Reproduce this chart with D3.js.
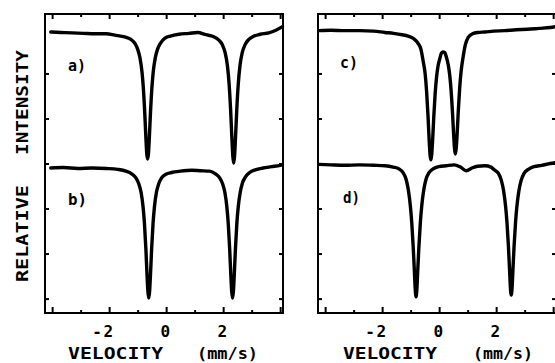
<!DOCTYPE html>
<html><head><meta charset="utf-8">
<script src="https://cdn.jsdelivr.net/npm/d3@7"></script>
<style>body{margin:0;background:#fff}svg{display:block}</style>
</head><body>
<svg id="chart" width="555" height="363"></svg>
<script>
// ---- data (velocity in mm/s, relative intensity in stacked units) ----
const velA = [-4.05,-3.7,-3.3,-2.9,-2.5,-2.1,-1.8,-1.45,-1.25,-1.1,-1.0,-0.92,-0.85,-0.80,-0.75,-0.71,-0.68,-0.65,-0.62,-0.59,-0.55,-0.50,-0.45,-0.38,-0.30,-0.20,-0.05,0.15,0.45,0.8,1.1,1.4,1.65,1.85,1.97,2.07,2.15,2.21,2.26,2.30,2.34,2.37,2.40,2.44,2.48,2.53,2.59,2.67,2.77,2.89,3.05,3.3,3.6,3.85,4.08];
const intA = [6.92,6.91,6.90,6.89,6.88,6.88,6.85,6.81,6.76,6.67,6.54,6.35,6.05,5.68,5.12,4.57,4.22,4.10,4.22,4.57,5.12,5.68,6.05,6.35,6.54,6.67,6.78,6.83,6.87,6.89,6.91,6.86,6.82,6.74,6.64,6.46,6.17,5.76,5.22,4.66,4.16,4.01,4.16,4.66,5.22,5.76,6.17,6.46,6.64,6.75,6.82,6.87,6.90,6.96,7.04];

const velB = [-4.05,-3.6,-3.1,-2.6,-2.1,-1.7,-1.41,-1.21,-1.06,-0.96,-0.88,-0.81,-0.76,-0.71,-0.67,-0.64,-0.61,-0.58,-0.55,-0.51,-0.46,-0.41,-0.34,-0.26,-0.16,-0.01,0.19,0.5,0.9,1.2,1.53,1.73,1.88,1.98,2.06,2.13,2.18,2.23,2.27,2.30,2.33,2.36,2.39,2.43,2.48,2.53,2.60,2.68,2.78,2.93,3.13,3.4,3.7,4.0,4.08];
const intB = [3.90,3.91,3.89,3.90,3.89,3.87,3.83,3.77,3.68,3.55,3.36,3.04,2.66,2.09,1.52,1.16,1.01,1.16,1.52,2.09,2.66,3.04,3.36,3.55,3.68,3.76,3.80,3.83,3.85,3.84,3.83,3.77,3.68,3.55,3.36,3.04,2.66,2.09,1.52,1.16,1.01,1.16,1.52,2.09,2.66,3.04,3.36,3.57,3.70,3.80,3.86,3.90,3.93,3.96,3.97];

const velC = [-4.21,-3.8,-3.3,-2.8,-2.3,-1.9,-1.6,-1.3,-1.09,-0.89,-0.74,-0.64,-0.56,-0.49,-0.44,-0.39,-0.35,-0.32,-0.29,-0.26,-0.23,-0.19,-0.14,-0.09,-0.04,0.02,0.08,0.14,0.20,0.26,0.32,0.37,0.42,0.47,0.51,0.54,0.57,0.60,0.63,0.67,0.72,0.77,0.84,0.92,1.02,1.17,1.37,1.6,1.9,2.3,2.7,3.1,3.5,3.9,4.1];
const intC = [6.95,6.96,6.95,6.95,6.94,6.91,6.89,6.86,6.83,6.77,6.67,6.54,6.27,5.99,5.60,5.05,4.52,4.20,4.08,4.20,4.50,5.01,5.55,5.92,6.16,6.32,6.45,6.48,6.46,6.35,6.19,5.97,5.62,5.11,4.63,4.33,4.21,4.34,4.64,5.14,5.67,6.04,6.36,6.64,6.80,6.88,6.91,6.92,6.94,6.95,6.97,6.98,7.00,7.02,7.04];

const velD = [-4.21,-3.8,-3.3,-2.8,-2.3,-1.9,-1.61,-1.41,-1.26,-1.16,-1.08,-1.01,-0.96,-0.91,-0.87,-0.84,-0.81,-0.78,-0.75,-0.71,-0.66,-0.61,-0.54,-0.46,-0.36,-0.21,-0.01,0.25,0.53,0.75,0.95,1.15,1.35,1.6,1.82,1.93,2.08,2.18,2.26,2.33,2.38,2.43,2.47,2.50,2.53,2.56,2.59,2.63,2.68,2.73,2.80,2.88,2.98,3.13,3.33,3.6,3.9,4.1];
const intD = [3.98,3.97,3.96,3.97,3.96,3.95,3.92,3.88,3.79,3.65,3.41,3.06,2.68,2.15,1.63,1.22,1.04,1.22,1.63,2.15,2.68,3.06,3.41,3.65,3.79,3.88,3.93,3.95,3.97,3.92,3.84,3.90,3.94,3.95,3.92,3.86,3.78,3.63,3.40,3.06,2.69,2.17,1.65,1.25,1.08,1.25,1.65,2.17,2.69,3.06,3.40,3.63,3.78,3.87,3.93,3.96,4.00,4.02];

const panelLabels = ["a)","b)","c)","d)"];
const xMajorTicks = [-4,-2,0,2,4];
const xMinorTicks = [-3,-1,1,3];
const xTickLabels = ["-2","0","2"];
const xLabelTicks = [-2,0,2];
const yTicks = [1,2,3,4,5,6];
const xTitle = ["VELOCITY","(mm/s)"];
const yTitle = ["RELATIVE","INTENSITY"];

// ---- layout ----
const svg = d3.select("#chart");
const plotTop = 14, plotBottom = 313;
const panelW = 238;
const panelX = [45, 318];
const y = d3.scaleLinear().domain([0.68, 7.32]).range([plotBottom, plotTop]);
const FONT = "'DejaVu Sans Mono', monospace";

const panels = [
  {x0: panelX[0], spectra: [[velA,intA],[velB,intB]], labels: [panelLabels[0], panelLabels[1]],
   labelPos: [[68,71,18],[68,205,19]], title: [[68,95],[197,61]]},
  {x0: panelX[1], spectra: [[velC,intC],[velD,intD]], labels: [panelLabels[2], panelLabels[3]],
   labelPos: [[340,68,18],[343,203,17]], title: [[343,94],[473,60]]}
];

panels.forEach(p => {
  const x = d3.scaleLinear().domain([-4.25, 4.1]).range([p.x0, p.x0 + panelW]);
  const g = svg.append("g");

  g.append("rect").attr("x", p.x0).attr("y", plotTop).attr("width", panelW).attr("height", plotBottom - plotTop)
    .attr("fill", "none").attr("stroke", "#000").attr("stroke-width", 2);

  const axB1 = d3.axisTop(x).tickValues(xMajorTicks).tickSize(6).tickFormat("");
  const axB2 = d3.axisTop(x).tickValues(xMinorTicks).tickSize(3).tickFormat("");
  const axT1 = d3.axisBottom(x).tickValues(xMajorTicks).tickSize(5).tickFormat("");
  const axT2 = d3.axisBottom(x).tickValues(xMinorTicks).tickSize(3).tickFormat("");
  [[axB1,plotBottom],[axB2,plotBottom],[axT1,plotTop],[axT2,plotTop]].forEach(([ax,yy]) => {
    const a = g.append("g").attr("transform", `translate(0,${yy})`).call(ax);
    a.select(".domain").remove();
    a.selectAll("line").attr("stroke", "#000").attr("stroke-width", 2);
  });
  const axL = d3.axisRight(y).tickValues(yTicks).tickSize(4).tickFormat("");
  const axR = d3.axisLeft(y).tickValues(yTicks).tickSize(4).tickFormat("");
  [[axL,p.x0],[axR,p.x0+panelW]].forEach(([ax,xx]) => {
    const a = g.append("g").attr("transform", `translate(${xx},0)`).call(ax);
    a.select(".domain").remove();
    a.selectAll("line").attr("stroke", "#000").attr("stroke-width", 2);
  });

  xLabelTicks.forEach((t, i) => {
    g.append("text").attr("x", x(t) + 5.5).attr("y", 337)
      .attr("text-anchor", "end").attr("font-family", FONT).attr("font-weight", "bold")
      .attr("font-size", 16).attr("letter-spacing", 1.5).text(xTickLabels[i]);
  });

  xTitle.forEach((s, i) => {
    g.append("text").attr("x", p.title[i][0]).attr("y", 359)
      .attr("font-family", FONT).attr("font-weight", "bold").attr("font-size", 16)
      .attr("textLength", p.title[i][1]).attr("lengthAdjust", "spacingAndGlyphs").text(s);
  });

  const line = d3.line().x(d => x(d[0])).y(d => y(d[1])).curve(d3.curveMonotoneX);
  p.spectra.forEach(([v, s]) => {
    const pts = v.map((vv, i) => [vv, s[i]]);
    g.append("path").datum(pts).attr("d", line).attr("fill", "none")
      .attr("stroke", "#000").attr("stroke-width", 3.4)
      .attr("stroke-linejoin", "round").attr("stroke-linecap", "round");
  });

  p.labels.forEach((lab, i) => {
    const [lx, ly, lw] = p.labelPos[i];
    g.append("text").attr("x", lx).attr("y", ly)
      .attr("font-family", FONT).attr("font-weight", "bold").attr("font-size", 16)
      .attr("textLength", lw).attr("lengthAdjust", "spacingAndGlyphs").text(lab);
  });
});

[[yTitle[0], 282, 97], [yTitle[1], 155, 105]].forEach(([s, yy, len]) => {
  svg.append("text").attr("transform", `translate(28,${yy}) rotate(-90)`)
    .attr("font-family", FONT).attr("font-weight", "bold").attr("font-size", 15)
    .attr("textLength", len).attr("lengthAdjust", "spacingAndGlyphs").text(s);
});
</script>
</body></html>
